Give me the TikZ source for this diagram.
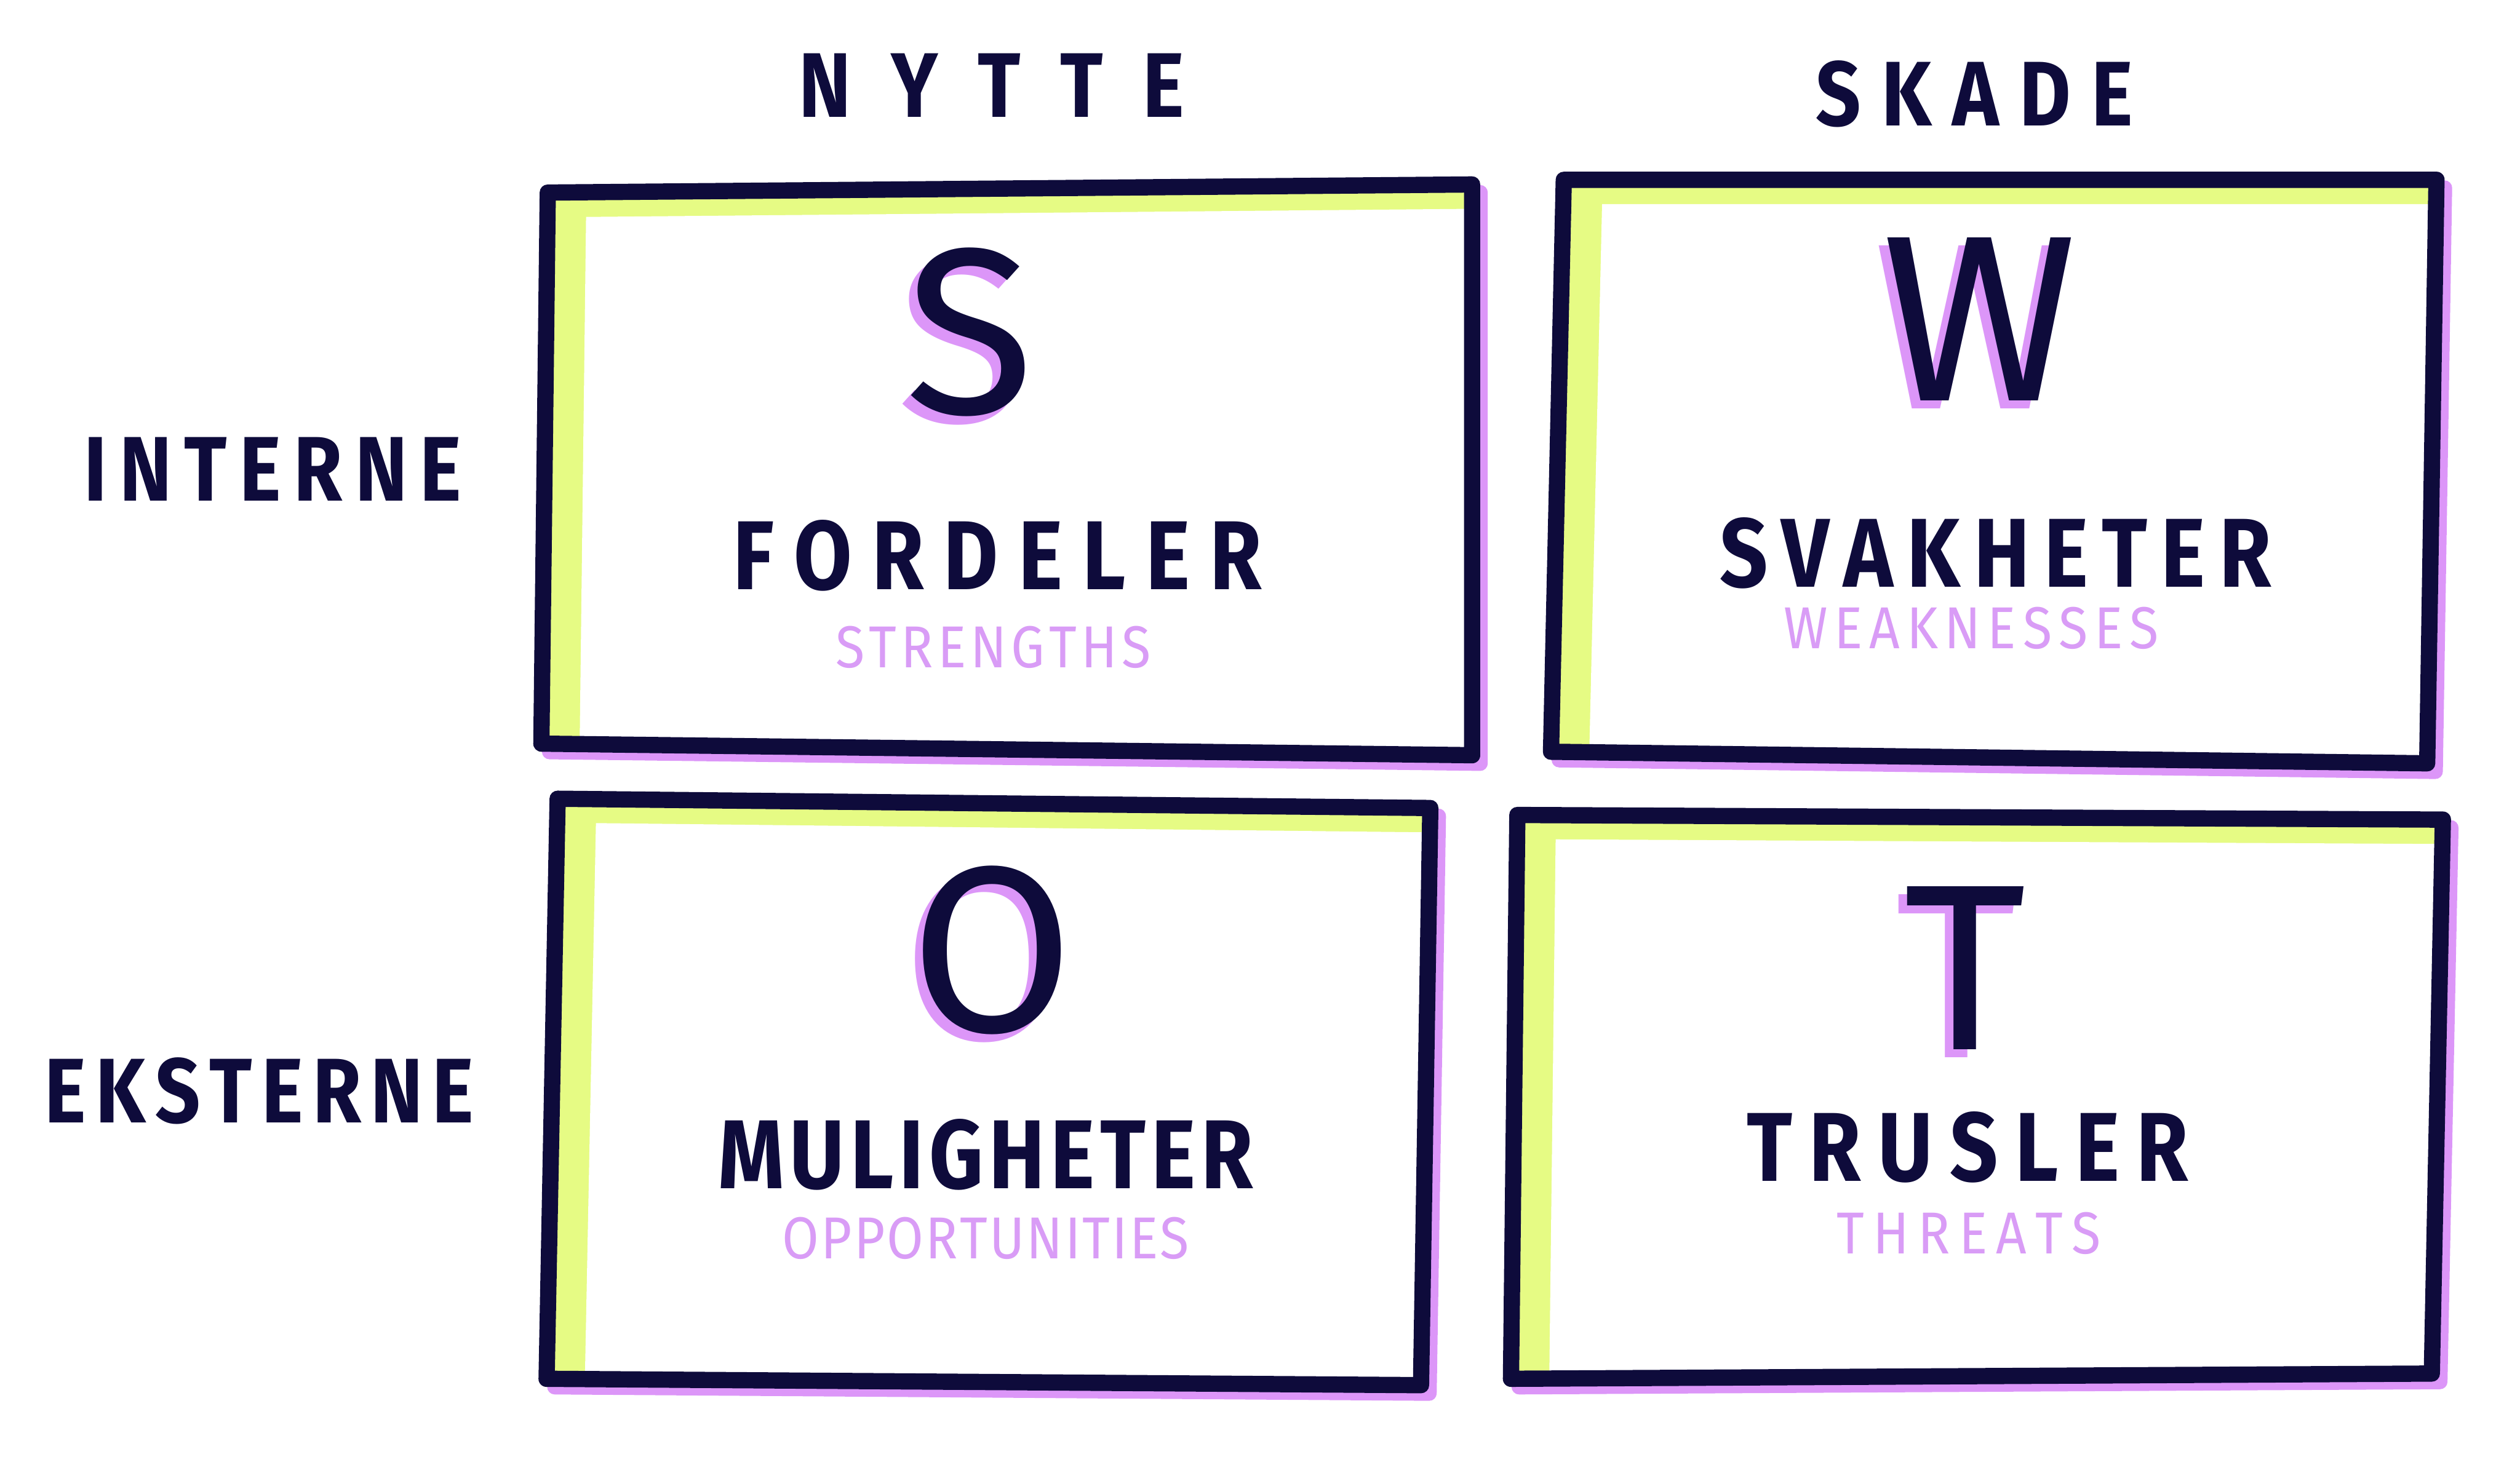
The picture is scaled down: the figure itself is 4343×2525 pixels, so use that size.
\documentclass[tikz,border=0pt]{standalone}
\usepackage{fontspec}
\setmainfont{Fira Sans}
\definecolor{navy}{HTML}{0E0B3B}
\definecolor{limeg}{HTML}{E6FB84}
\definecolor{lav}{HTML}{DC96F8}
\definecolor{lavtext}{HTML}{D99CF6}
\newcommand\G{\hskip 0pt plus 1fil minus 8pt\relax}
\newcommand\sw[2]{\makebox[#1][s]{#2}}
\newcommand\swotbox[1]{%
  \draw[shadowline] ([shift={(14,14)}]#1a) -- ([shift={(14,14)}]#1b) -- ([shift={(14,14)}]#1c) -- ([shift={(14,14)}]#1d) -- cycle;
  \fill[limeg] (#1a) -- (#1b) -- (#1c) -- (#1d) -- cycle;
  \fill[white] ([shift={(66,42)}]#1a) -- ([shift={(0,42)}]#1b) -- (#1c) -- ([shift={(66,0)}]#1d) -- cycle;
  \draw[boxline] (#1a) -- (#1b) -- (#1c) -- (#1d) -- cycle;
}
\begin{document}
\begin{tikzpicture}[x=0.01cm,y=-0.01cm,
  boxline/.style={draw=navy, line width=0.28cm, line join=round, line cap=round},
  shadowline/.style={draw=lav, line width=0.26cm, line join=round},
  head/.style={text=navy, inner sep=0pt, font=\fontsize{45}{54}\selectfont\bfseries\addfontfeatures{FakeStretch=0.86}},
  mainlab/.style={text=navy, inner sep=0pt, font=\fontsize{48}{58}\selectfont\bfseries\addfontfeatures{FakeStretch=0.86}},
  sublab/.style={text=lavtext, inner sep=0pt, font=\fontsize{29}{35}\selectfont\addfontfeatures{FakeStretch=0.9}},
  big/.style={text=navy, inner sep=0pt, font=\fontsize{116}{130}\selectfont},
  bigshadow/.style={big, text=lav},
]
\useasboundingbox (0,0) rectangle (4343,2525);

% box corners
\coordinate (sa) at (944,332);  \coordinate (sb) at (2537,318);
\coordinate (sc) at (2537,1302); \coordinate (sd) at (933,1282);
\coordinate (wa) at (2695,310); \coordinate (wb) at (4199,310);
\coordinate (wc) at (4183,1316); \coordinate (wd) at (2673,1296);
\coordinate (oa) at (961,1377); \coordinate (ob) at (2465,1393);
\coordinate (oc) at (2449,2388); \coordinate (od) at (942,2377);
\coordinate (ta) at (2615,1405); \coordinate (tb) at (4210,1413);
\coordinate (tc) at (4191,2368); \coordinate (td) at (2604,2377);

\swotbox{s}
\swotbox{w}
\swotbox{o}
\swotbox{t}

% headings
\node[head] (nytte) at (1709,147) {\sw{6.64cm}{N\G Y\G T\G T\G E}};
\node[head] (skade) at (3403,162) {\sw{5.46cm}{S\G K\G A\G D\G E}};
\node[head] (interne) at (470,809) {\sw{6.51cm}{I\G N\G T\G E\G R\G N\G E}};
\node[head] (eksterne) at (447,1881) {\sw{7.39cm}{E\G K\G S\G T\G E\G R\G N\G E}};

% big letters with shadow
\node[bigshadow] (shS) at (1657,587) {S};
\node[big] (bigS) at (1671,573) {S};
\node[bigshadow] (shW) at (3397,564) {W};
\node[big] (bigW) at (3411,550) {W};
\node[bigshadow] (shO) at (1696,1652) {O};
\node[big] (bigO) at (1710,1638) {O};
\node[bigshadow] (shT) at (3372,1683) {T};
\node[big] (bigT) at (3386,1669) {T};

% labels
\node[mainlab] (fordeler) at (1719,958) {\sw{9.11cm}{F\G O\G R\G D\G E\G L\G E\G R}};
\node[sublab] (strengths) at (1712,1116) {\sw{5.43cm}{S\G T\G R\G E\G N\G G\G T\G H\G S}};
\node[mainlab] (svakheter) at (3439,954) {\sw{9.50cm}{S\G V\G A\G K\G H\G E\G T\G E\G R}};
\node[sublab] (weaknesses) at (3397,1083) {\sw{6.46cm}{W\G E\G A\G K\G N\G E\G S\G S\G E\G S}};
\node[mainlab] (muligheter) at (1699,1990) {\sw{9.22cm}{M\G U\G L\G I\G G\G H\G E\G T\G E\G R}};
\node[sublab] (opportunities) at (1699,2135) {\sw{7.01cm}{O\G P\G P\G O\G R\G T\G U\G N\G I\G T\G I\G E\G S}};
\node[mainlab] (trusler) at (3391,1978) {\sw{7.61cm}{T\G R\G U\G S\G L\G E\G R}};
\node[sublab] (threats) at (3393,2126) {\sw{4.54cm}{T\G H\G R\G E\G A\G T\G S}};
\end{tikzpicture}
\end{document}
